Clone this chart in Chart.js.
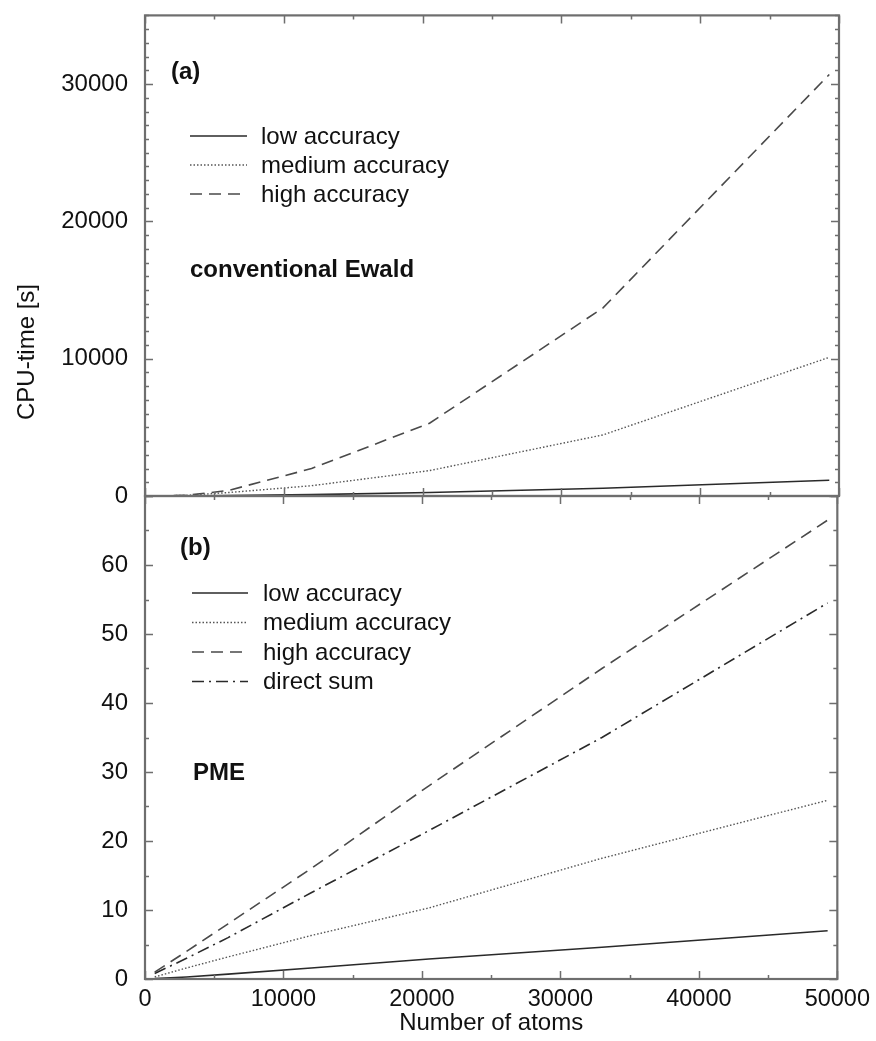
<!DOCTYPE html>
<html>
<head>
<meta charset="utf-8">
<script src="https://cdn.jsdelivr.net/npm/chart.js@4"></script>
<style>
    html, body { margin: 0; padding: 0; background: #fff; }
    #wrap { position: relative; width: 876px; height: 1041px; }
    canvas { position: absolute; left: 0; }
    #topCanvas { top: 0; }
    #bottomCanvas { top: 470px; }
</style>
</head>
<body>
<div id="wrap">
    <canvas id="topCanvas" width="876" height="520"></canvas>
    <canvas id="bottomCanvas" width="876" height="571"></canvas>
</div>
<script>
// Number of atoms (shared x values)
const atoms = [700, 3000, 6000, 12000, 20500, 33000, 49300];

// (a) conventional Ewald, CPU-time [s]
const ewaldLow = [0, 5, 30, 100, 250, 560, 1150];
const ewaldMedium = [0, 50, 250, 750, 1850, 4450, 10100];
const ewaldHigh = [0, 50, 400, 2000, 5300, 13700, 30700];

// (b) PME, CPU-time [s]
const pmeLow = [0.05, 0.3, 0.7, 1.6, 2.9, 4.6, 7.0];
const pmeMedium = [0.3, 1.6, 3.2, 6.3, 10.3, 17.5, 25.9];
const pmeHigh = [1.0, 4.0, 8.0, 16.0, 28.0, 45.0, 66.5];
const pmeDirect = [0.8, 3.0, 6.0, 12.5, 21.5, 35.0, 54.5];

const seriesLabels = ['low accuracy', 'medium accuracy', 'high accuracy', 'direct sum'];
const xTickValues = [0, 10000, 20000, 30000, 40000, 50000];
const ewaldTickValues = [0, 10000, 20000, 30000];
const pmeTickValues = [0, 10, 20, 30, 40, 50, 60];

const FONT = "'Liberation Sans', Arial, Helvetica, sans-serif";
const TEXT = '#111';

Chart.defaults.font.family = FONT;
Chart.defaults.color = TEXT;

function points(ys) {
    return atoms.map((a, i) => ({ x: a, y: ys[i] }));
}

// line styles per series
const styles = {
    low: { borderColor: '#2a2a2a', borderWidth: 1.6, borderDash: [] },
    medium: { borderColor: '#555', borderWidth: 1.4, borderDash: [1.5, 2] },
    high: { borderColor: '#4a4a4a', borderWidth: 1.6, borderDash: [12, 7] },
    direct: { borderColor: '#2a2a2a', borderWidth: 1.6, borderDash: [12, 5, 2, 5] }
};

function dataset(label, ys, style) {
    return Object.assign({
        label: label,
        data: points(ys),
        pointRadius: 0,
        tension: 0,
        fill: false
    }, style);
}

// Box around the plot with gnuplot-like inward ticks
const frameTicks = {
    id: 'frameTicks',
    afterDraw(chart, args, opts) {
        const { ctx, chartArea: a, scales: { x, y } } = chart;
        ctx.save();
        ctx.strokeStyle = '#6e6e6e';
        ctx.lineWidth = 1.5;
        ctx.beginPath();
        for (let v = x.min; v <= x.max + 1e-9; v += opts.xMinor) {
            const px = Math.round(x.getPixelForValue(v)) + 0.5;
            const len = Math.abs(v % opts.xMajor) < 1e-9 ? 8 : 4;
            ctx.moveTo(px, a.bottom); ctx.lineTo(px, a.bottom - len);
            ctx.moveTo(px, a.top); ctx.lineTo(px, a.top + len);
        }
        for (let v = y.min; v <= y.max + 1e-9; v += opts.yMinor) {
            const py = Math.round(y.getPixelForValue(v)) + 0.5;
            const len = Math.abs(v % opts.yMajor) < 1e-9 ? 8 : 4;
            ctx.moveTo(a.left, py); ctx.lineTo(a.left + len, py);
            ctx.moveTo(a.right, py); ctx.lineTo(a.right - len, py);
        }
        ctx.stroke();
        ctx.lineWidth = 2.2;
        ctx.strokeRect(a.left, a.top, a.right - a.left, a.bottom - a.top);
        ctx.restore();
    }
};

// Legend drawn inside the plot area, using each dataset's own line style
const insideLegend = {
    id: 'insideLegend',
    afterDraw(chart, args, opts) {
        const ctx = chart.ctx;
        ctx.save();
        ctx.font = opts.fontSize + 'px ' + FONT;
        ctx.fillStyle = TEXT;
        ctx.textBaseline = 'middle';
        chart.data.datasets.forEach((ds, i) => {
            const y = opts.y + i * opts.rowHeight;
            ctx.strokeStyle = ds.borderColor;
            ctx.lineWidth = ds.borderWidth;
            ctx.setLineDash(ds.borderDash || []);
            ctx.beginPath();
            ctx.moveTo(opts.x, y);
            ctx.lineTo(opts.x + opts.lineLength, y);
            ctx.stroke();
            ctx.setLineDash([]);
            ctx.fillText(ds.label, opts.x + opts.lineLength + opts.gap, y + 1);
        });
        ctx.restore();
    }
};

// Free text labels: panel tags, method names, y axis title
const notes = {
    id: 'notes',
    afterDraw(chart, args, opts) {
        const ctx = chart.ctx;
        (opts.items || []).forEach(item => {
            ctx.save();
            ctx.font = (item.bold ? 'bold ' : '') + item.size + 'px ' + FONT;
            ctx.fillStyle = TEXT;
            ctx.textBaseline = 'middle';
            ctx.textAlign = item.align || 'left';
            ctx.translate(item.x, item.y);
            if (item.rotate) ctx.rotate(item.rotate);
            ctx.fillText(item.text, 0, 0);
            ctx.restore();
        });
    }
};

function yScale(max, tickValues) {
    return {
        type: 'linear',
        min: 0,
        max: max,
        afterBuildTicks: s => { s.ticks = tickValues.map(v => ({ value: v })); },
        ticks: {
            padding: 1,
            autoSkip: false,
            font: { size: 24 },
            color: TEXT,
            callback: v => String(v)
        },
        grid: { display: false, drawTicks: true, tickLength: 16 },
        border: { display: false },
        afterFit: s => { s.width = 145; }
    };
}

// (a) conventional Ewald
new Chart(document.getElementById('topCanvas'), {
    type: 'line',
    data: {
        datasets: [
            dataset(seriesLabels[0], ewaldLow, styles.low),
            dataset(seriesLabels[1], ewaldMedium, styles.medium),
            dataset(seriesLabels[2], ewaldHigh, styles.high)
        ]
    },
    options: {
        responsive: false,
        animation: false,
        layout: { padding: { left: 0, right: 37, top: 15, bottom: 24 } },
        scales: {
            x: { type: 'linear', min: 0, max: 50000, display: false },
            y: yScale(35000, ewaldTickValues)
        },
        plugins: {
            legend: { display: false },
            tooltip: { enabled: false },
            frameTicks: { xMajor: 10000, xMinor: 5000, yMajor: 10000, yMinor: 1000 },
            insideLegend: { x: 190, y: 136, rowHeight: 29, lineLength: 57, gap: 14, fontSize: 24 },
            notes: {
                items: [
                    { text: '(a)', x: 171, y: 72, size: 24, bold: true },
                    { text: 'conventional Ewald', x: 190, y: 270, size: 24, bold: true },
                    { text: 'CPU-time [s]', x: 27, y: 352, size: 24, rotate: -Math.PI / 2, align: 'center' }
                ]
            }
        }
    },
    plugins: [frameTicks, insideLegend, notes]
});

// (b) PME
new Chart(document.getElementById('bottomCanvas'), {
    type: 'line',
    data: {
        datasets: [
            dataset(seriesLabels[0], pmeLow, styles.low),
            dataset(seriesLabels[1], pmeMedium, styles.medium),
            dataset(seriesLabels[2], pmeHigh, styles.high),
            dataset(seriesLabels[3], pmeDirect, styles.direct)
        ]
    },
    options: {
        responsive: false,
        animation: false,
        layout: { padding: { left: 0, right: 37, top: 26, bottom: 0 } },
        scales: {
            x: {
                type: 'linear',
                min: 0,
                max: 50000,
                afterBuildTicks: s => { s.ticks = xTickValues.map(v => ({ value: v })); },
                ticks: {
                    padding: 6,
                    maxRotation: 0,
                    autoSkip: false,
                    font: { size: 23.5 },
                    color: TEXT,
                    callback: v => String(v)
                },
                grid: { display: false, drawTicks: false },
                border: { display: false },
                title: {
                    display: true,
                    text: 'Number of atoms',
                    font: { size: 24 },
                    color: TEXT,
                    padding: { top: 0, bottom: 3 }
                },
                afterFit: s => { s.height = 62; }
            },
            y: yScale(70, pmeTickValues)
        },
        plugins: {
            legend: { display: false },
            tooltip: { enabled: false },
            frameTicks: { xMajor: 10000, xMinor: 5000, yMajor: 10, yMinor: 5 },
            insideLegend: { x: 192, y: 123, rowHeight: 29.5, lineLength: 56, gap: 15, fontSize: 24 },
            notes: {
                items: [
                    { text: '(b)', x: 180, y: 78, size: 24, bold: true },
                    { text: 'PME', x: 193, y: 303, size: 24, bold: true }
                ]
            }
        }
    },
    plugins: [frameTicks, insideLegend, notes]
});
</script>
</body>
</html>
